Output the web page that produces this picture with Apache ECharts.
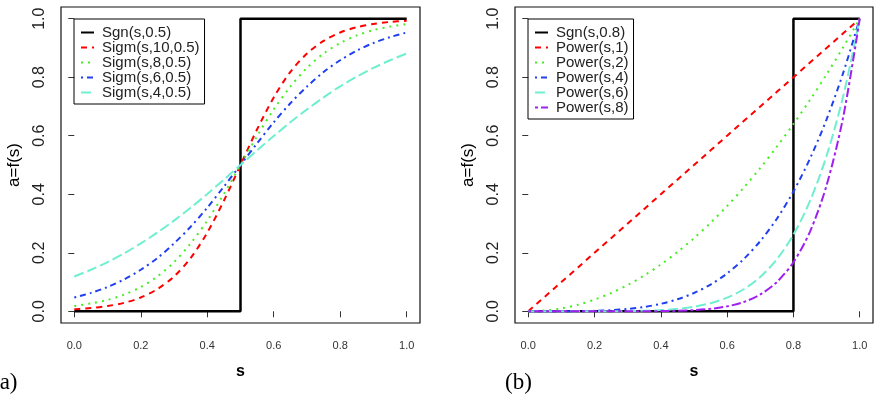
<!DOCTYPE html>
<html>
<head>
<meta charset="utf-8">
<script src="https://cdn.jsdelivr.net/npm/echarts@6/dist/echarts.min.js"></script>
<style>
  html, body { margin: 0; padding: 0; background: #fff; }
  #chart { width: 880px; height: 400px; }
</style>
</head>
<body>
<div id="chart"></div>
<script>
// s grid shared by every curve
const sVals = [0, 0.05, 0.1, 0.15, 0.2, 0.25, 0.3, 0.35, 0.4, 0.45, 0.5,
  0.55, 0.6, 0.65, 0.7, 0.75, 0.8, 0.85, 0.9, 0.95, 1]
const tickVals = [0, 0.2, 0.4, 0.6, 0.8, 1]

// panel (a)
const sgnA_s = [0, 0.5, 0.5, 1]
const sgnA_y = [0, 0, 1, 1]
const sigm10 = [0.007, 0.011, 0.018, 0.029, 0.047, 0.076, 0.119, 0.182, 0.269, 0.378, 0.5,
  0.622, 0.731, 0.818, 0.881, 0.924, 0.953, 0.971, 0.982, 0.989, 0.993]
const sigm8 = [0.018, 0.027, 0.039, 0.057, 0.083, 0.119, 0.168, 0.232, 0.31, 0.401, 0.5,
  0.599, 0.69, 0.768, 0.832, 0.881, 0.917, 0.943, 0.961, 0.973, 0.982]
const sigm6 = [0.047, 0.063, 0.083, 0.109, 0.142, 0.182, 0.232, 0.289, 0.354, 0.426, 0.5,
  0.574, 0.646, 0.711, 0.768, 0.818, 0.858, 0.891, 0.917, 0.937, 0.953]
const sigm4 = [0.119, 0.142, 0.168, 0.198, 0.232, 0.269, 0.31, 0.354, 0.401, 0.45, 0.5,
  0.55, 0.599, 0.646, 0.69, 0.731, 0.769, 0.802, 0.832, 0.858, 0.881]

// panel (b)
const sgnB_s = [0, 0.8, 0.8, 1]
const sgnB_y = [0, 0, 1, 1]
const pow1 = [0, 0.05, 0.1, 0.15, 0.2, 0.25, 0.3, 0.35, 0.4, 0.45, 0.5,
  0.55, 0.6, 0.65, 0.7, 0.75, 0.8, 0.85, 0.9, 0.95, 1]
const pow2 = [0, 0.0025, 0.01, 0.0225, 0.04, 0.0625, 0.09, 0.1225, 0.16, 0.2025, 0.25,
  0.3025, 0.36, 0.4225, 0.49, 0.5625, 0.64, 0.7225, 0.81, 0.9025, 1]
const pow4 = [0, 0, 0.0001, 0.0005, 0.0016, 0.0039, 0.0081, 0.015, 0.0256, 0.041, 0.0625,
  0.0915, 0.1296, 0.1785, 0.2401, 0.3164, 0.4096, 0.522, 0.6561, 0.8145, 1]
const pow6 = [0, 0, 0, 0, 0.0001, 0.0002, 0.0007, 0.0018, 0.0041, 0.0083, 0.0156,
  0.0277, 0.0467, 0.0754, 0.1176, 0.178, 0.2621, 0.3771, 0.5314, 0.7351, 1]
const pow8 = [0, 0, 0, 0, 0, 0, 0.0001, 0.0002, 0.0007, 0.0017, 0.0039,
  0.0084, 0.0168, 0.0319, 0.0576, 0.1001, 0.1678, 0.2725, 0.4305, 0.6634, 1]

const FONT = 'Liberation Sans'

function pairs(xs, ys) {
  return xs.map((x, i) => [x, ys[i]])
}

function curve(name, idx, xs, ys, color, width, dash, smooth) {
  return {
    name,
    type: 'line',
    xAxisIndex: idx,
    yAxisIndex: idx,
    data: pairs(xs, ys),
    symbol: 'none',
    smooth: smooth ? 0.3 : false,
    lineStyle: { color, width, type: dash },
    itemStyle: { color }
  }
}

function xAxisFor(idx) {
  return {
    gridIndex: idx,
    type: 'value',
    min: -0.04,
    max: 1.04,
    name: 's',
    nameLocation: 'middle',
    nameGap: 41,
    nameTextStyle: { fontFamily: FONT, fontSize: 16, fontWeight: 'bold', color: '#000' },
    axisLine: { show: false },
    splitLine: { show: false },
    axisTick: { show: true, length: 6, customValues: tickVals, lineStyle: { color: '#333' } },
    axisLabel: {
      customValues: tickVals,
      margin: 17,
      fontFamily: FONT,
      fontSize: 11,
      color: '#333',
      formatter: v => v.toFixed(1)
    }
  }
}

function yAxisFor(idx) {
  return {
    gridIndex: idx,
    type: 'value',
    min: -0.04,
    max: 1.04,
    name: 'a=f(s)',
    nameLocation: 'middle',
    nameGap: 38,
    nameTextStyle: { fontFamily: FONT, fontSize: 17, color: '#000' },
    axisLine: { show: false },
    splitLine: { show: false },
    axisTick: { show: true, length: 6, customValues: tickVals, lineStyle: { color: '#333' } },
    axisLabel: {
      customValues: tickVals,
      rotate: 90,
      margin: 13,
      fontFamily: FONT,
      fontSize: 16,
      color: '#222',
      formatter: v => v.toFixed(1)
    }
  }
}

function legendFor(left, names) {
  return {
    orient: 'vertical',
    left,
    top: 19,
    data: names,
    padding: [6, 5, 4, 6],
    itemGap: 0,
    itemWidth: 13,
    itemHeight: 12,
    itemStyle: { opacity: 0 },
    borderColor: '#000',
    borderWidth: 1,
    borderRadius: 0,
    textStyle: { fontFamily: FONT, fontSize: 15, lineHeight: 12, color: '#222', padding: [0, 0, 0, 3] }
  }
}

const red = '#ff0000'
const green = '#44ee22'
const blue = '#2040f0'
const aqua = '#6fefd0'
const purple = '#a020f0'

const seriesA = [
  curve('Sgn(s,0.5)', 0, sgnA_s, sgnA_y, '#000', 2.5, 'solid', false),
  curve('Sigm(s,10,0.5)', 0, sVals, sigm10, red, 2, [6, 5], true),
  curve('Sigm(s,8,0.5)', 0, sVals, sigm8, green, 2, [2, 5], true),
  curve('Sigm(s,6,0.5)', 0, sVals, sigm6, blue, 2, [2, 4, 6, 4], true),
  curve('Sigm(s,4,0.5)', 0, sVals, sigm4, aqua, 2, [10, 4], true)
]
const seriesB = [
  curve('Sgn(s,0.8)', 1, sgnB_s, sgnB_y, '#000', 2.5, 'solid', false),
  curve('Power(s,1)', 1, sVals, pow1, red, 2, [6, 5], false),
  curve('Power(s,2)', 1, sVals, pow2, green, 2, [2, 5], true),
  curve('Power(s,4)', 1, sVals, pow4, blue, 2, [2, 4, 6, 4], true),
  curve('Power(s,6)', 1, sVals, pow6, aqua, 2, [10, 4], true),
  curve('Power(s,8)', 1, sVals, pow8, purple, 2, [3, 3, 9, 3], true)
]

const chart = echarts.init(document.getElementById('chart'))
chart.setOption({
  animation: false,
  backgroundColor: '#fff',
  grid: [
    { left: 61, top: 7, width: 359, height: 316, show: true, borderColor: '#111', borderWidth: 1.2 },
    { left: 515, top: 7, width: 358, height: 316, show: true, borderColor: '#111', borderWidth: 1.2 }
  ],
  xAxis: [xAxisFor(0), xAxisFor(1)],
  yAxis: [yAxisFor(0), yAxisFor(1)],
  legend: [
    legendFor(74, seriesA.map(s => s.name)),
    legendFor(528, seriesB.map(s => s.name))
  ],
  graphic: [
    { type: 'text', left: -8, top: 371, style: { text: '(a)', font: '23px "Liberation Serif"', fill: '#000' } },
    { type: 'text', left: 505, top: 371, style: { text: '(b)', font: '23px "Liberation Serif"', fill: '#000' } }
  ],
  series: seriesA.concat(seriesB)
})
</script>
</body>
</html>
